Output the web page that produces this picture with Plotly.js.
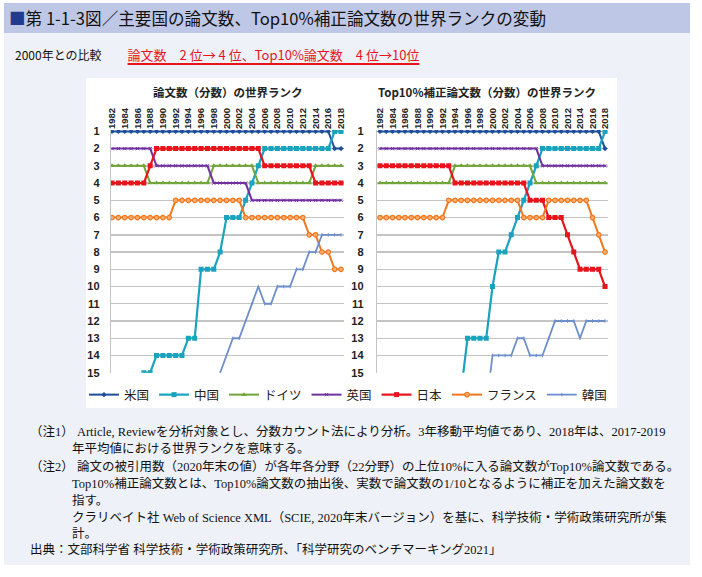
<!DOCTYPE html>
<html>
<head>
<meta charset="utf-8">
<script src="https://cdn.plot.ly/plotly-3.0.1.min.js"></script>
<style>
  html, body { margin:0; padding:0; background:#ffffff; width:702px; height:577px; overflow:hidden; }
  .abs { position:absolute; white-space:nowrap; }
  #page { left:4px; top:3px; width:686px; height:562px; background:#eef1f8; }
  #bar { left:4px; top:3px; width:686px; height:30px; background:#bfc7e6;
         font-family:"Noto Sans CJK JP","Noto Sans",sans-serif; font-size:16.6px; line-height:30px; color:#111; }
  #bar .sq { color:#1f3a8f; margin-left:5px; }
  #sub { left:15px; top:45px; font-family:"Noto Sans CJK JP",sans-serif; font-size:12px; line-height:20px; color:#111; }
  #sub .red { font-size:13px; color:#e8141c; text-decoration:underline; text-decoration-color:#e8141c; text-decoration-thickness:2px; text-underline-offset:3px; margin-left:26px; }
  #panel { left:86px; top:78px; width:531px; height:330px; background:#ffffff; }
  #plot { left:0; top:0; width:702px; height:577px; }
  .note { font-family:"Liberation Serif","Noto Sans CJK JP",serif; font-size:12.5px; line-height:16px; color:#111; }
</style>
</head>
<body>
<div id="page" class="abs"></div>
<div id="bar" class="abs"><span class="sq">■</span>第 1-1-3図／主要国の論文数、Top10%補正論文数の世界ランクの変動</div>
<div id="sub" class="abs">2000年との比較<span class="red">論文数　2 位→ 4 位、Top10%論文数　4 位→10位</span></div>
<div id="panel" class="abs"></div>
<div id="plot" class="abs"></div>
<div class="abs note" style="left:30px;top:424px;">（注1） Article, Reviewを分析対象とし、分数カウント法により分析。3年移動平均値であり、2018年は、2017-2019</div>
<div class="abs note" style="left:72px;top:441px;">年平均値における世界ランクを意味する。</div>
<div class="abs note" style="left:30px;top:459px;">（注2） 論文の被引用数（2020年末の値）が各年各分野（22分野）の上位10%に入る論文数がTop10%論文数である。</div>
<div class="abs note" style="left:72px;top:476px;">Top10%補正論文数とは、Top10%論文数の抽出後、実数で論文数の1/10となるように補正を加えた論文数を</div>
<div class="abs note" style="left:72px;top:493px;">指す。</div>
<div class="abs note" style="left:72px;top:510px;">クラリベイト社 Web of Science XML（SCIE, 2020年末バージョン）を基に、科学技術・学術政策研究所が集</div>
<div class="abs note" style="left:72px;top:526px;">計。</div>
<div class="abs note" style="left:30px;top:542px;">出典：文部科学省 科学技術・学術政策研究所、「科学研究のベンチマーキング2021」</div>
<script>
// ---- data ----
const years = [1982,1983,1984,1985,1986,1987,1988,1989,1990,1991,1992,1993,1994,1995,1996,1997,1998,1999,2000,2001,2002,2003,2004,2005,2006,2007,2008,2009,2010,2011,2012,2013,2014,2015,2016,2017,2018];
const yearTicks = [1982,1984,1986,1988,1990,1992,1994,1996,1998,2000,2002,2004,2006,2008,2010,2012,2014,2016,2018];
const rankTicks = [1,2,3,4,5,6,7,8,9,10,11,12,13,14,15];
const countries = ["米国","中国","ドイツ","英国","日本","フランス","韓国"];

// 論文数（分数）の世界ランク
const usPapers = [1,1,1,1,1,1,1,1,1,1,1,1,1,1,1,1,1,1,1,1,1,1,1,1,1,1,1,1,1,1,1,1,1,1,1,2,2];
const cnPapers = [null,null,null,null,null,15,15,14,14,14,14,14,13,13,9,9,9,8,6,6,6,5,4,3,2,2,2,2,2,2,2,2,2,2,2,1,1];
const dePapers = [3,3,3,3,3,3,4,4,4,4,4,4,4,4,4,4,3,3,3,3,3,3,3,4,4,4,4,4,4,4,4,4,3,3,3,3,3];
const ukPapers = [2,2,2,2,2,2,2,3,3,3,3,3,3,3,3,3,4,4,4,4,4,4,5,5,5,5,5,5,5,5,5,5,5,5,5,5,5];
const jpPapers = [4,4,4,4,4,4,3,2,2,2,2,2,2,2,2,2,2,2,2,2,2,2,2,2,3,3,3,3,3,3,3,3,4,4,4,4,4];
const frPapers = [6,6,6,6,6,6,6,6,6,6,5,5,5,5,5,5,5,5,5,5,5,6,6,6,6,6,6,6,6,6,6,7,7,8,8,9,9];
const krPapers = [null,null,null,null,null,null,null,null,null,null,null,null,null,null,null,null,null,15,14,13,13,12,11,10,11,11,10,10,10,9,9,8,8,7,7,7,7];

// Top10%補正論文数（分数）の世界ランク
const usTop10 = [1,1,1,1,1,1,1,1,1,1,1,1,1,1,1,1,1,1,1,1,1,1,1,1,1,1,1,1,1,1,1,1,1,1,1,1,2];
const cnTop10 = [null,null,null,null,null,null,null,null,null,null,null,null,null,16,13,13,13,13,10,8,8,7,6,5,4,3,2,2,2,2,2,2,2,2,2,2,1];
const deTop10 = [4,4,4,4,4,4,4,4,4,4,4,4,3,3,3,3,3,3,3,3,3,3,3,3,3,4,4,4,4,4,4,4,4,4,4,4,4];
const ukTop10 = [2,2,2,2,2,2,2,2,2,2,2,2,2,2,2,2,2,2,2,2,2,2,2,2,2,2,3,3,3,3,3,3,3,3,3,3,3];
const jpTop10 = [3,3,3,3,3,3,3,3,3,3,3,3,4,4,4,4,4,4,4,4,4,4,4,4,5,5,5,6,6,6,7,8,9,9,9,9,10];
const frTop10 = [6,6,6,6,6,6,6,6,6,6,6,5,5,5,5,5,5,5,5,5,5,5,5,6,6,6,6,5,5,5,5,5,5,5,6,7,8];
const krTop10 = [null,null,null,null,null,null,null,null,null,null,null,null,null,null,null,null,null,17,14,14,14,14,13,13,14,14,14,13,12,12,12,12,13,12,12,12,12];

// ---- styles ----
const styles = [
  {color:"#1f4e9a", symbol:"diamond", size:4.2, width:2, mline:0},
  {color:"#1aa3be", symbol:"square", size:5, width:2.2, mline:0},
  {color:"#72a53a", symbol:"triangle-up", size:5, width:2, mline:0},
  {color:"#7030a0", symbol:"x-thin-open", size:3.2, width:2, mline:1},
  {color:"#e8141c", symbol:"square", size:5, width:2.2, mline:0},
  {color:"#f07820", symbol:"circle", size:4.5, width:2, mline:1.2, fill:"#f8b070"},
  {color:"#6c8fcb", symbol:"line-ns-open", size:2.5, width:1.8, mline:1}
];

const leftSeries = [usPapers, cnPapers, dePapers, ukPapers, jpPapers, frPapers, krPapers];
const rightSeries = [usTop10, cnTop10, deTop10, ukTop10, jpTop10, frTop10, krTop10];

const traces = [];
function addTraces(series, xa, ya, showLegend) {
  series.forEach((vals, i) => {
    const s = styles[i];
    traces.push({
      type:"scatter", mode:"lines+markers", x:years, y:vals, name:countries[i],
      xaxis:xa, yaxis:ya, showlegend:showLegend, legendgroup:countries[i],
      cliponaxis:true, connectgaps:false,
      line:{color:s.color, width:s.width},
      marker:{symbol:s.symbol, size:s.size, color:s.fill || s.color,
              line:{color:s.color, width:s.mline}},
      hoverinfo:"skip"
    });
  });
}
addTraces(leftSeries, "x", "y", true);
addTraces(rightSeries, "x2", "y2", false);

const W = 702, H = 577;
const px = v => v / W;
const py = v => 1 - v / H;

const yCommon = {
  range:[15, 0.92], tickvals:rankTicks, showgrid:true, gridcolor:"#c4c4c4", gridwidth:1.4,
  zeroline:false, showline:true, linecolor:"#c4c4c4", linewidth:1.2, ticks:"",
  tickfont:{family:"Liberation Sans, Arial, sans-serif", size:11, color:"#222", weight:"bold"},
  fixedrange:true
};
const xCommon = {
  side:"top", tickvals:yearTicks, tickangle:-90, showgrid:false, zeroline:false, showline:false,
  ticks:"", tickfont:{family:"Liberation Sans, Arial, sans-serif", size:9.5, color:"#222", weight:"bold"},
  fixedrange:true
};

const layout = {
  width:W, height:H, margin:{l:0,r:0,t:0,b:0},
  paper_bgcolor:"rgba(0,0,0,0)", plot_bgcolor:"rgba(0,0,0,0)",
  showlegend:true,
  xaxis:Object.assign({}, xCommon, {domain:[px(111), px(344)], range:[1981.84, 2018.47], anchor:"y"}),
  yaxis:Object.assign({}, yCommon, {domain:[py(372.7), py(130)], anchor:"x", ticklabelstandoff:8}),
  xaxis2:Object.assign({}, xCommon, {domain:[px(377), px(608)], range:[1981.52, 2018.48], anchor:"y2"}),
  yaxis2:Object.assign({}, yCommon, {domain:[py(372.7), py(130)], anchor:"x2", ticklabelstandoff:10}),
  legend:{orientation:"h", x:px(348), xanchor:"center", y:py(395), yanchor:"middle",
          bgcolor:"rgba(0,0,0,0)", font:{family:"Noto Sans CJK JP, sans-serif", size:12.5, color:"#222"},
          itemwidth:30, tracegroupgap:0, traceorder:"normal"},
  annotations:[
    {text:"論文数（分数）の世界ランク", xref:"paper", yref:"paper", x:px(228), y:py(92),
     xanchor:"center", yanchor:"middle", showarrow:false,
     font:{family:"Noto Sans CJK JP, sans-serif", size:11.5, color:"#222", weight:"bold"}},
    {text:"Top10%補正論文数（分数）の世界ランク", xref:"paper", yref:"paper", x:px(487), y:py(92),
     xanchor:"center", yanchor:"middle", showarrow:false,
     font:{family:"Noto Sans CJK JP, sans-serif", size:11.5, color:"#222", weight:"bold"}}
  ]
};

Plotly.newPlot("plot", traces, layout, {displayModeBar:false, staticPlot:true});
</script>
</body>
</html>
